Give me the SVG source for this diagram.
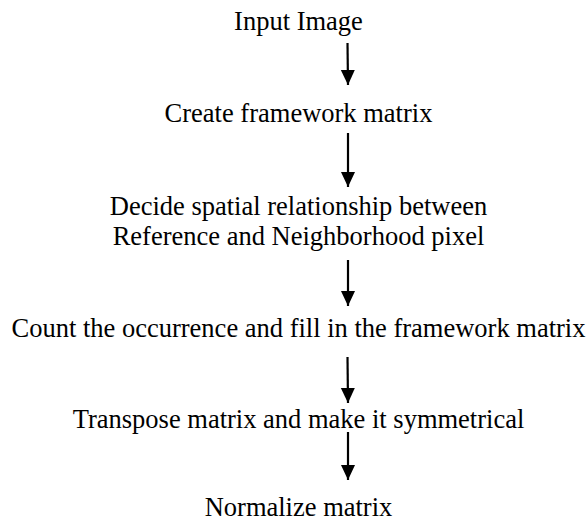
<svg xmlns="http://www.w3.org/2000/svg" width="587" height="522" viewBox="0 0 587 522">
<style>
text{font-family:"Liberation Serif","Times New Roman",serif;font-size:26.5px;fill:#000;text-anchor:middle}
.c{stroke:#000;stroke-width:2.2;fill:none}
</style>
<defs>
<marker id="ah" markerUnits="userSpaceOnUse" markerWidth="16" markerHeight="16" refX="15" refY="7.5" orient="auto">
<path d="M0,0.5 L15,7.5 L0,14.5 Z" fill="#000"/>
</marker>
</defs>
<rect width="587" height="522" fill="#fff"/>
<g id="n1"><text x="298.5" y="30">Input Image</text></g>
<g id="n2"><text x="298.5" y="122">Create framework matrix</text></g>
<g id="n3"><text x="298.5" y="215">Decide spatial relationship between</text><text x="298.5" y="245">Reference and Neighborhood pixel</text></g>
<g id="n4"><text x="298.5" y="337">Count the occurrence and fill in the framework matrix</text></g>
<g id="n5"><text x="298.5" y="428">Transpose matrix and make it symmetrical</text></g>
<g id="n6"><text x="298.5" y="516">Normalize matrix</text></g>
<g id="connectors">
<line class="c" x1="347.5" y1="43" x2="348" y2="85" marker-end="url(#ah)"/>
<line class="c" x1="348" y1="133" x2="348" y2="187" marker-end="url(#ah)"/>
<line class="c" x1="348" y1="260" x2="348" y2="306" marker-end="url(#ah)"/>
<line class="c" x1="347.5" y1="357" x2="348" y2="403" marker-end="url(#ah)"/>
<line class="c" x1="348" y1="432" x2="348" y2="480" marker-end="url(#ah)"/>
</g>
</svg>
